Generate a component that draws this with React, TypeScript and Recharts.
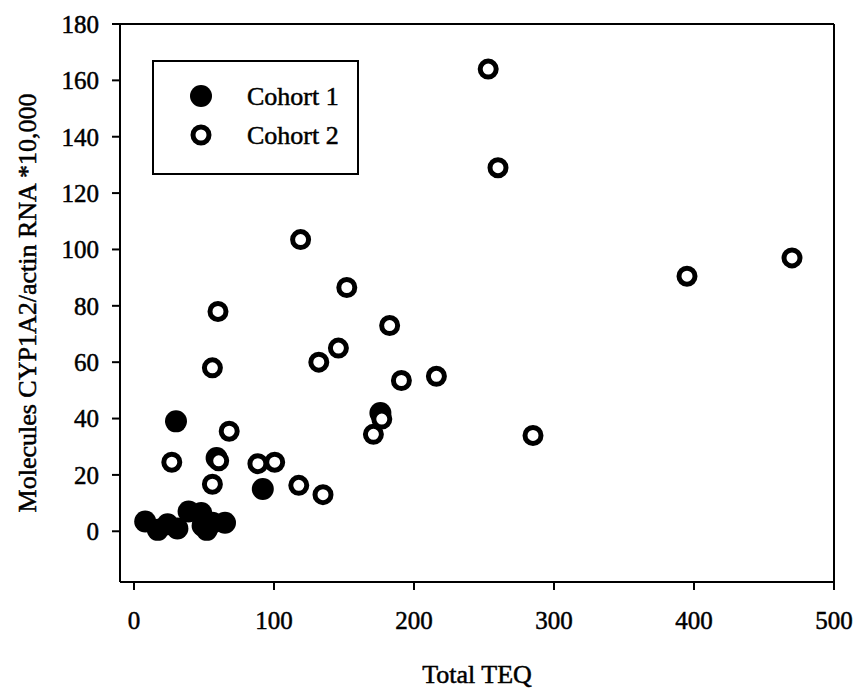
import { ScatterChart, Scatter, XAxis, YAxis, ReferenceLine } from "recharts";

// Cohort 1 (filled)
const cohort1Teq = [8, 17, 24, 31, 30, 39, 48, 52, 56, 49, 65, 59, 92, 176];
const cohort1Rna = [3.5, 0.5, 2.5, 1, 39, 7, 6.5, 0.5, 3, 2, 3, 26, 15, 42];

// Cohort 2 (open)
const cohort2Teq = [27, 56, 56, 60, 60.5, 68, 88.5, 100.5, 117.7, 119, 135, 132, 146, 152, 171, 177, 182.6, 191, 216, 253, 260, 285, 395, 470];
const cohort2Rna = [24.5, 16.7, 58, 78, 25, 35.5, 24, 24.5, 16.3, 103.5, 13, 60, 65, 86.5, 34.4, 39.8, 73, 53.5, 55, 164, 129, 34, 90.5, 97];

const xTicks = [0, 100, 200, 300, 400, 500];
const yTicks = [0, 20, 40, 60, 80, 100, 120, 140, 160, 180];
const seriesNames = ["Cohort 1", "Cohort 2"];

const cohort1 = cohort1Teq.map((x, i) => ({ x, y: cohort1Rna[i] }));
const cohort2 = cohort2Teq.map((x, i) => ({ x, y: cohort2Rna[i] }));

const FONT = "'Liberation Serif', 'Times New Roman', serif";
const textStyle = { fill: "#000", fontFamily: FONT, stroke: "#000", strokeWidth: 0.5 };

const FilledDot = (props: any) => <circle cx={props.cx} cy={props.cy} r={11} fill="#000" />;
const OpenDot = (props: any) => (
  <circle cx={props.cx} cy={props.cy} r={8} fill="#fff" stroke="#000" strokeWidth={5} />
);

// legend drawn on top of the chart, same spot as the original
const LegendBox = () => (
  <svg width={207} height={115} style={{ position: "absolute", left: 152, top: 60 }}>
    <rect x={1} y={1} width={205} height={113} fill="#fff" stroke="#000" strokeWidth={2} />
    <circle cx={49} cy={36} r={11} fill="#000" />
    <circle cx={49} cy={75} r={8} fill="#fff" stroke="#000" strokeWidth={5} />
    {seriesNames.map((n, i) => (
      <text key={n} x={95} y={36 + i * 39} dominantBaseline="central" fontSize={26} {...textStyle}>
        {n}
      </text>
    ))}
  </svg>
);

const YTitle = (props: any) => {
  const vb = props.viewBox;
  const cx = vb.x + 27;
  const cy = vb.y + vb.height / 2;
  return (
    <text
      x={cx}
      y={cy}
      transform={`rotate(-90, ${cx}, ${cy})`}
      textAnchor="middle"
      dominantBaseline="central"
      fontSize={26}
      {...textStyle}
    >
      Molecules CYP1A2/actin RNA *10,000
    </text>
  );
};

export default function App() {
  return (
    <div style={{ position: "absolute", left: 0, top: 0, background: "#fff" }}>
      <ScatterChart width={857} height={692} margin={{ top: 24, right: 23, bottom: 0, left: 0 }}>
        <XAxis
          type="number"
          dataKey="x"
          domain={[-10, 500]}
          ticks={xTicks}
          height={110}
          allowDataOverflow
          tickSize={8}
          tickMargin={21}
          axisLine={{ stroke: "#000", strokeWidth: 2 }}
          tickLine={{ stroke: "#000", strokeWidth: 2 }}
          tick={{ ...textStyle, fontSize: 25 }}
          label={{ value: "Total TEQ", position: "insideBottom", offset: 9, fontSize: 26, ...textStyle }}
        />
        <YAxis
          type="number"
          dataKey="y"
          domain={[-18, 180]}
          ticks={yTicks}
          width={120}
          allowDataOverflow
          tickSize={8}
          tickMargin={13}
          axisLine={{ stroke: "#000", strokeWidth: 2 }}
          tickLine={{ stroke: "#000", strokeWidth: 2 }}
          tick={{ ...textStyle, fontSize: 25 }}
          label={<YTitle />}
        />
        <ReferenceLine y={180} stroke="#000" strokeWidth={2} />
        <ReferenceLine x={500} stroke="#000" strokeWidth={2} />
        <Scatter name={seriesNames[0]} data={cohort1} shape={FilledDot} isAnimationActive={false} />
        <Scatter name={seriesNames[1]} data={cohort2} shape={OpenDot} isAnimationActive={false} />
      </ScatterChart>
      <LegendBox />
    </div>
  );
}
